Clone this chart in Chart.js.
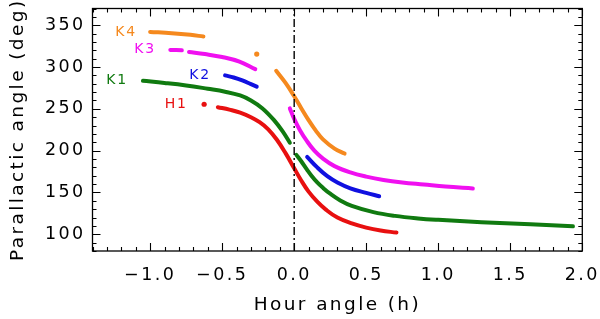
<!DOCTYPE html>
<html>
<head>
<meta charset="utf-8">
<script src="https://cdn.jsdelivr.net/npm/chart.js@4.4.1/dist/chart.umd.min.js"></script>
<style>
  html, body { margin: 0; padding: 0; background: #fff; }
  #wrap { width: 600px; height: 319px; }
</style>
</head>
<body>
<div id="wrap"><canvas id="chart"></canvas></div>
<script>
// hour angle (h) vs parallactic angle (deg), null marks a gap in the track
const h1Hours  = [-0.625, null, -0.53, -0.45, -0.375, -0.3, -0.24, -0.18, -0.12, -0.06, 0.0, 0.05, 0.1, 0.16, 0.22, 0.3, 0.4, 0.5, 0.6, 0.71];
const h1Angles = [255.5, null, 252, 249, 245.5, 240, 234, 225.5, 213, 197, 179, 164, 151, 139, 129.5, 120, 113, 108, 104.5, 102];

const k1Hours  = [-1.05, -0.9, -0.75, -0.6, -0.48, -0.375, -0.3, -0.22, -0.14, -0.08, -0.03, null, 0.015, 0.05, 0.09, 0.12, 0.16, 0.2, 0.25, 0.32, 0.4, 0.55, 0.7, 0.86, 1.0, 1.3, 1.64, 1.935];
const k1Angles = [283.5, 281, 278, 274, 270.5, 266, 260, 250.5, 236.5, 223, 209.5, null, 195, 187, 177, 170, 162, 155.5, 148.5, 140.5, 134, 126.5, 122, 119, 117.3, 114.5, 112, 109.5];

const k2Hours  = [-0.48, -0.42, -0.36, -0.3, -0.26, null, 0.09, 0.16, 0.23, 0.3, 0.39, 0.5, 0.59];
const k2Angles = [290, 287.5, 284, 279.5, 276.5, null, 192.5, 180, 169.5, 162, 155, 149.5, 145.5];

const k3Hours  = [-0.86, -0.78, null, -0.73, -0.62, -0.5, -0.38, -0.27, null, -0.03, 0.0, 0.04, 0.09, 0.14, 0.2, 0.28, 0.39, 0.5, 0.62, 0.75, 0.9, 1.05, 1.24];
const k3Angles = [320.5, 320, null, 318, 315.5, 312, 306.5, 297.5, null, 250.5, 238, 224.5, 211, 200, 190.5, 181.5, 174, 169, 165, 162, 159.5, 157, 154.7];

const k4Hours  = [-1.0, -0.85, -0.72, -0.63, null, -0.26, null, -0.125, -0.06, 0.0, 0.05, 0.1, 0.15, 0.2, 0.28, 0.35];
const k4Angles = [342, 340.5, 338.5, 336.5, null, 315.5, null, 295.5, 281, 265, 250.5, 236.5, 224, 213.5, 202.5, 196.5];

// meridian marker
const meridianHours  = [0, 0];
const meridianAngles = [80, 370];

const xTickValues = [-1.0, -0.5, 0.0, 0.5, 1.0, 1.5, 2.0];
const yTickValues = [100, 150, 200, 250, 300, 350];

// series names and where their tags sit (data units)
const tagNames = ['K4', 'K3', 'K1', 'K2', 'H1'];
const tagHours = [-1.167, -1.035, -1.229, -0.653, -0.819];
const tagAngles = [342, 321, 283.7, 290, 255.5];
const tagColors = ['#f5891e', '#f010f0', '#107a10', '#1010e0', '#e81010'];

const FONT = "'DejaVu Sans', sans-serif";

function toPoints(xs, ys) {
    return xs.map((x, i) => ({ x: x === null ? xs[i - 1] : x, y: ys[i] }));
}

// only show a dot where a point has no neighbours (isolated samples)
function lonelyRadius(ctx) {
    const d = ctx.dataset.data;
    const i = ctx.dataIndex;
    const prev = i > 0 ? d[i - 1].y : null;
    const next = i < d.length - 1 ? d[i + 1].y : null;
    return (d[i].y !== null && prev === null && next === null) ? 2.6 : 0;
}

function track(xs, ys, color) {
    return {
        data: toPoints(xs, ys),
        borderColor: color,
        backgroundColor: color,
        borderWidth: 4,
        borderCapStyle: 'round',
        borderJoinStyle: 'round',
        pointRadius: lonelyRadius,
        pointBorderWidth: 0,
        tension: 0.4,
        spanGaps: false
    };
}

const frame = {
    id: 'frame',
    beforeDraw(chart) {
        chart.ctx.letterSpacing = '2.4px';
    },
    afterDatasetsDraw(chart) {
        const { ctx, chartArea: a, scales: { x, y } } = chart;
        ctx.save();
        ctx.strokeStyle = '#000';
        ctx.lineWidth = 1.3;
        ctx.strokeRect(a.left, a.top, a.right - a.left, a.bottom - a.top);

        ctx.lineWidth = 1.1;
        ctx.beginPath();
        for (let i = -14; i <= 20; i++) {
            const v = i / 10;
            const px = Math.round(x.getPixelForValue(v)) + 0.5;
            const len = (i % 5 === 0) ? 8 : 4;
            ctx.moveTo(px, a.bottom); ctx.lineTo(px, a.bottom - len);
            ctx.moveTo(px, a.top); ctx.lineTo(px, a.top + len);
        }
        for (let v = 80; v <= 370; v += 10) {
            const py = Math.round(y.getPixelForValue(v)) + 0.5;
            const len = (v % 50 === 0) ? 8 : 4;
            ctx.moveTo(a.left, py); ctx.lineTo(a.left + len, py);
            ctx.moveTo(a.right, py); ctx.lineTo(a.right - len, py);
        }
        ctx.stroke();

        ctx.font = '14px ' + FONT;
        ctx.letterSpacing = '1.8px';
        ctx.textAlign = 'center';
        ctx.textBaseline = 'middle';
        tagNames.forEach((name, i) => {
            ctx.fillStyle = tagColors[i];
            ctx.fillText(name, x.getPixelForValue(tagHours[i]), y.getPixelForValue(tagAngles[i]));
        });
        ctx.restore();
    }
};

new Chart(document.getElementById('chart'), {
    type: 'line',
    data: {
        datasets: [
            {
                data: toPoints(meridianHours, meridianAngles),
                borderColor: '#000',
                borderWidth: 1.4,
                borderDash: [8, 3, 2, 3],
                pointRadius: 0
            },
            track(k1Hours, k1Angles, tagColors[2]),
            track(h1Hours, h1Angles, tagColors[4]),
            track(k2Hours, k2Angles, tagColors[3]),
            track(k3Hours, k3Angles, tagColors[1]),
            track(k4Hours, k4Angles, tagColors[0])
        ]
    },
    options: {
        responsive: true,
        maintainAspectRatio: false,
        animation: false,
        layout: { padding: { top: 8.5, right: 17.7, left: 0, bottom: 0 } },
        plugins: { legend: { display: false }, tooltip: { enabled: false } },
        scales: {
            x: {
                type: 'linear',
                min: -1.4,
                max: 2.0,
                grid: { display: false, drawTicks: false },
                border: { display: false },
                afterBuildTicks(scale) { scale.ticks = xTickValues.map(v => ({ value: v })); },
                afterFit(scale) {
                    scale.height = 68;
                    scale.paddingLeft = 0; scale.paddingRight = 0;
                },
                ticks: {
                    autoSkip: false,
                    maxRotation: 0,
                    padding: 14,
                    color: '#000',
                    font: { family: FONT, size: 17.5 },
                    callback: v => (v < 0 ? '\u2212' : '') + Math.abs(v).toFixed(1)
                },
                title: {
                    display: true,
                    text: 'Hour angle (h)',
                    color: '#000',
                    font: { family: FONT, size: 18.5 },
                    padding: { top: 0, bottom: 3 }
                }
            },
            y: {
                min: 80,
                max: 370,
                grid: { display: false, drawTicks: false },
                border: { display: false },
                afterBuildTicks(scale) { scale.ticks = yTickValues.map(v => ({ value: v })); },
                afterFit(scale) {
                    scale.width = 92.5;
                    scale.paddingTop = 0; scale.paddingBottom = 0;
                },
                ticks: {
                    autoSkip: false,
                    padding: 7,
                    color: '#000',
                    font: { family: FONT, size: 17.5 }
                },
                title: {
                    display: true,
                    text: 'Parallactic angle (deg)',
                    color: '#000',
                    font: { family: FONT, size: 18.5 },
                    padding: { top: 7, bottom: 0 }
                }
            }
        }
    },
    plugins: [frame]
});
</script>
</body>
</html>
